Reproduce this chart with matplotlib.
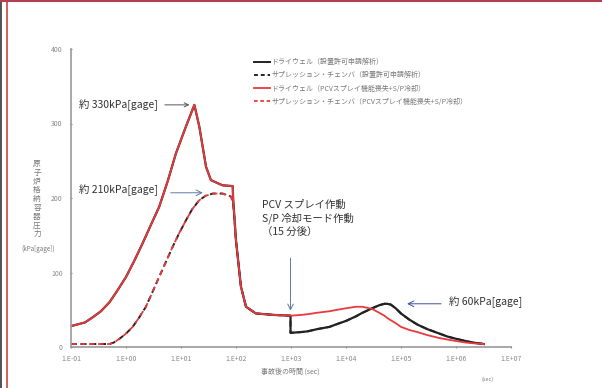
import numpy as np
import matplotlib
matplotlib.use("Agg")
import matplotlib.pyplot as plt
from matplotlib.lines import Line2D

plt.rcParams['font.family'] = ['Noto Sans CJK JP', 'DejaVu Sans']

# dry well / suppression chamber pressure (kPa[gage]) vs time (sec)
# common part before the spray starts (both analyses)
t_dw_early = [0.1, 0.18, 0.25, 0.35, 0.5, 0.7, 1.0, 1.4, 2.0, 2.8, 4.0, 5.7, 8.1, 12.3, 17.5,
              21.5, 28.5, 35.0, 57.0, 87.0, 89.0, 100.0, 123.0, 152.0, 230.0, 500.0, 980.0]
dw_early = [28, 33, 40, 48, 60, 76, 94, 115, 139, 163, 188, 222, 260, 296, 325,
            296, 242, 224, 217, 216, 197, 143, 81, 54, 45, 43, 42]
t_sc_early = [0.1, 0.3, 0.5, 0.6, 0.76, 1.0, 1.32, 1.75, 2.3, 3.0, 4.0, 5.3, 7.0, 9.3, 12.3,
              16.0, 21.5, 28.0, 38.0, 57.0, 81.0,
              89.0, 100.0, 123.0, 152.0, 230.0, 500.0, 980.0]
sc_early = [4, 4, 4, 6, 11, 18, 27, 40, 54, 73, 94, 114, 134, 153, 170,
            185, 197, 203, 206, 206, 202,
            193, 143, 81, 54, 45, 43, 42]

# after 15 min
t_late = [980.0, 1500.0, 2000.0, 3000.0, 5000.0, 7000.0, 1.0e4, 1.5e4, 2.0e4, 3.0e4, 4.0e4,
          5.0e4, 5.6e4, 6.5e4, 8.0e4, 1.0e5, 1.4e5, 2.0e5, 3.0e5, 5.0e5, 7.0e5, 1.0e6,
          1.5e6, 2.0e6, 3.2e6]
p_base_late = [19, 20, 21, 24, 27, 31, 35, 41, 46, 52, 56, 58, 58, 57, 52, 45, 37, 30, 24,
               18, 14, 11, 8, 6, 4]
p_spray_late = [42, 43, 44, 46, 48, 50, 52, 54, 54, 51, 46, 42, 39, 36, 32, 27, 23, 20, 16,
                12, 10, 8, 6, 5, 4]

labels = ['ドライウェル（設置許可申請解析）',
          'サプレッション・チェンバ（設置許可申請解析）',
          'ドライウェル（PCVスプレイ機能喪失+S/P冷却）',
          'サプレッション・チェンバ（PCVスプレイ機能喪失+S/P冷却）']
xticks = [1e-1, 1e0, 1e1, 1e2, 1e3, 1e4, 1e5, 1e6, 1e7]
xticklabels = ['1.E-01', '1.E+00', '1.E+01', '1.E+02', '1.E+03', '1.E+04',
               '1.E+05', '1.E+06', '1.E+07']
yticks = [0, 100, 200, 300, 400]
ylabel_chars = '原子炉格納容器圧力'

fig = plt.figure(figsize=(6.02, 3.88), dpi=100)
ax = fig.add_axes([71 / 602, 41 / 388, 440 / 602, 298 / 388])

red = '#e8393c'
blk = '#222222'

# original analysis (black)
ax.plot(t_dw_early + t_late, dw_early + p_base_late, color=blk, lw=1.6)
ax.plot(t_sc_early + t_late, sc_early + p_base_late, color=blk, lw=1.4, ls=(0, (3, 2)))

# PCV spray loss + S/P cooling (red)
ax.plot(t_dw_early + t_late[1:], dw_early + p_spray_late[1:], color=red, lw=1.3)
ax.plot(t_sc_early[:22], sc_early[:22], color=red, lw=1.3, ls=(0, (3, 2)))

ax.set_xscale('log')
ax.set_xlim(0.1, 1e7)
ax.set_ylim(0, 400)
ax.set_xticks(xticks)
ax.set_xticklabels(xticklabels)
ax.minorticks_off()
ax.set_yticks(yticks)
ax.tick_params(labelsize=5, colors='#888888', length=2, direction='inout', pad=5)
for s in ['top', 'right']:
    ax.spines[s].set_visible(False)
for s in ['left', 'bottom']:
    ax.spines[s].set_color('#999999')
    ax.spines[s].set_linewidth(1.2)

handles = [Line2D([], [], color=blk, lw=1.4),
           Line2D([], [], color=blk, lw=1.4, ls=(0, (2, 1.5))),
           Line2D([], [], color=red, lw=1.3),
           Line2D([], [], color=red, lw=1.3, ls=(0, (2, 1.5)))]
fig.legend(handles, labels, loc='upper left', bbox_to_anchor=(248 / 602, 1 - 52 / 388),
           frameon=False, fontsize=5, handlelength=2.2, handletextpad=0.3,
           labelspacing=0.75, labelcolor='#777777')

txt_kw = dict(fontsize=7.5, color='#333333', va='center', ha='left')
ax.annotate('約 330kPa[gage]', xy=(16, 325), xytext=(0.14, 325),
            arrowprops=dict(arrowstyle='->', color='#555555', lw=0.7, shrinkA=3), **txt_kw)
ax.text(0.14, 211, '約 210kPa[gage]', **txt_kw)
ax.annotate('', xy=(28, 207), xytext=(5.8, 207),
            arrowprops=dict(arrowstyle='->', color='#5a7aa0', lw=0.7))
ax.text(300, 198, 'PCV スプレイ作動\nS/P 冷却モード作動\n（15 分後）', fontsize=7.5,
        color='#333333', va='top', ha='left', linespacing=1.3)
ax.annotate('', xy=(980, 45), xytext=(980, 123),
            arrowprops=dict(arrowstyle='->', color='#5a7aa0', lw=0.7))
ax.text(7.5e5, 60, '約 60kPa[gage]', **txt_kw)
ax.annotate('', xy=(1.15e5, 58), xytext=(6.0e5, 58),
            arrowprops=dict(arrowstyle='->', color='#3a50a0', lw=0.7))

# vertical y label, one character per line
for i, ch in enumerate(ylabel_chars):
    fig.text(37 / 602, 1 - (164 + 8.8 * i) / 388, ch, fontsize=5.5,
             color='#777777', ha='center', va='center')
fig.text(38 / 602, 1 - 249 / 388, '(kPa[gage])', fontsize=4.5, color='#777777',
         ha='center', va='center')
fig.text(290 / 602, 1 - 372 / 388, '事故後の時間 (sec)', fontsize=5, color='#777777',
         ha='center', va='center')
fig.text(488 / 602, 1 - 379 / 388, '(sec)', fontsize=4, color='#777777',
         ha='center', va='center')

# frame edges of the source figure
fig.add_artist(Line2D([1 / 602, 1 / 602], [0, 1], transform=fig.transFigure, color='#333333', lw=1.2))
fig.add_artist(Line2D([6.5 / 602, 6.5 / 602], [0, 1], transform=fig.transFigure, color='#d04040', lw=1.2))
fig.add_artist(Line2D([0, 1], [1 - 1 / 388, 1 - 1 / 388], transform=fig.transFigure, color='#b04050', lw=1.5))

fig.savefig('out.png', dpi=100)
